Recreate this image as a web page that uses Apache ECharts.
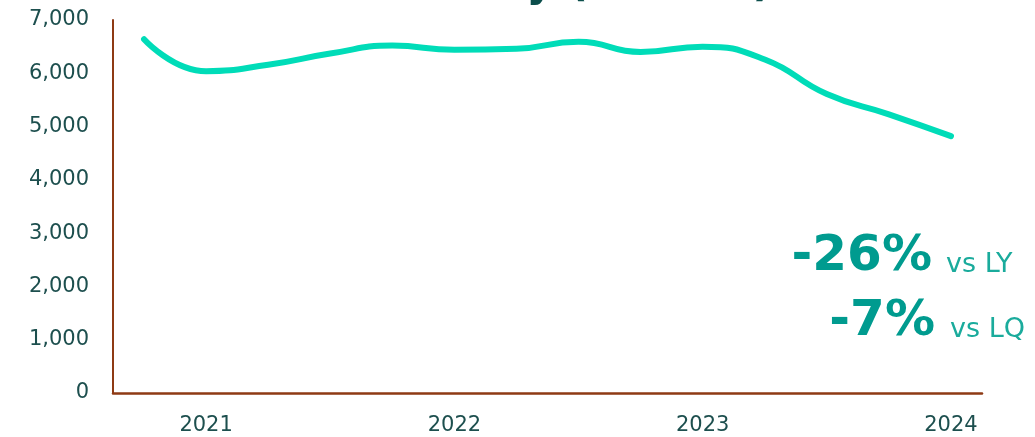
<!DOCTYPE html>
<html>
<head>
<meta charset="utf-8">
<script src="https://cdn.jsdelivr.net/npm/echarts@6/dist/echarts.min.js"></script>
<style>
html,body{margin:0;padding:0;background:#fff;}
#chart{width:1035px;height:437px;}
</style>
</head>
<body>
<div id="chart"></div>
<script>
// Quarterly categories (Q4 2020 .. Q1 2024)
const categories = ['Q4 2020','Q1 2021','Q2 2021','Q3 2021','Q4 2021','Q1 2022','Q2 2022','Q3 2022','Q4 2022','Q1 2023','Q2 2023','Q3 2023','Q4 2023','Q1 2024'];
const tickLabels = {'Q1 2021':'2021','Q1 2022':'2022','Q1 2023':'2023','Q1 2024':'2024'};
const values = [6640, 6040, 6160, 6370, 6520, 6440, 6460, 6590, 6400, 6500, 6260, 5610, 5230, 4820];
const titleText = 'Total Sales Delivery (Tonnes)';
const kpiLY = '-26%';
const kpiLQ = '-7%';

const FONT = '"DejaVu Sans", "Noto Sans", sans-serif';
const chart = echarts.init(document.getElementById('chart'), null, {renderer:'canvas'});
chart.setOption({
  animation:false,
  backgroundColor:'#ffffff',
  grid:{left:113, right:53, top:20, bottom:44, containLabel:false},
  xAxis:{
    type:'category',
    data:categories,
    boundaryGap:true,
    axisLine:{show:true, lineStyle:{color:'#8e3a14', width:2.5}},
    axisTick:{show:false},
    axisLabel:{
      interval:0,
      margin:22,
      color:'#1d4f4e',
      fontFamily:FONT,
      fontSize:21,
      formatter:(v)=>tickLabels[v]||''
    },
    splitLine:{show:false}
  },
  yAxis:{
    type:'value',
    min:0, max:7000, interval:1000,
    axisLine:{show:true, lineStyle:{color:'#8e3a14', width:2}},
    axisTick:{show:false},
    splitLine:{show:false},
    axisLabel:{
      margin:24,
      color:'#1d4f4e',
      fontFamily:FONT,
      fontSize:21,
      formatter:(v)=>v.toLocaleString('en-US')
    }
  },
  series:[{
    type:'line',
    data:values,
    smooth:0.5,
    symbol:'none',
    lineStyle:{color:'#00dcb8', width:6, cap:'round', join:'round'},
    z:3
  }],
  graphic:[
    {type:'text', style:{text:titleText, x:772, y:6, textAlign:'right', textVerticalAlign:'bottom', font:'bold 42px '+FONT, fill:'#0b4e4b'}},
    {type:'text', style:{text:kpiLY, x:932, y:282, textAlign:'right', textVerticalAlign:'bottom', font:'bold 50px '+FONT, fill:'#009b8f'}},
    {type:'text', style:{text:'vs LY', x:946, y:278, textAlign:'left', textVerticalAlign:'bottom', font:'27px '+FONT, fill:'#1aab9c'}},
    {type:'text', style:{text:kpiLQ, x:935, y:347, textAlign:'right', textVerticalAlign:'bottom', font:'bold 50px '+FONT, fill:'#009b8f'}},
    {type:'text', style:{text:'vs LQ', x:950, y:343, textAlign:'left', textVerticalAlign:'bottom', font:'27px '+FONT, fill:'#1aab9c'}}
  ]
});
</script>
</body>
</html>
